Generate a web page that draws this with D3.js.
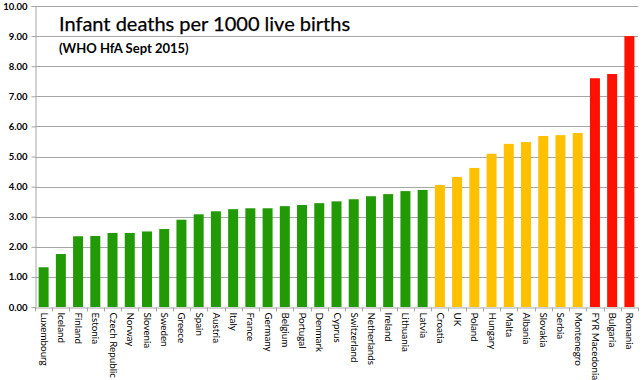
<!DOCTYPE html>
<html><head><meta charset="utf-8">
<script src="https://cdn.jsdelivr.net/npm/d3@7"></script>
<style>body{margin:0;background:#fff}svg{display:block}</style>
</head><body>
<script>
const countries = ["Luxembourg","Iceland","Finland","Estonia","Czech Republic","Norway","Slovenia","Sweden","Greece","Spain","Austria","Italy","France","Germany","Belgium","Portugal","Denmark","Cyprus","Switzerland","Netherlands","Ireland","Lithuania","Latvia","Croatia","UK","Poland","Hungary","Malta","Albania","Slovakia","Serbia","Montenegro","FYR Macedonia","Bulgaria","Romania"];
const rates = [1.32,1.76,2.35,2.36,2.46,2.46,2.51,2.59,2.90,3.08,3.18,3.25,3.28,3.28,3.35,3.39,3.45,3.51,3.58,3.68,3.75,3.85,3.89,4.05,4.32,4.62,5.09,5.42,5.48,5.68,5.71,5.78,7.60,7.74,9.00];
const tiers = ["low","low","low","low","low","low","low","low","low","low","low","low","low","low","low","low","low","low","low","low","low","low","low","mid","mid","mid","mid","mid","mid","mid","mid","mid","high","high","high"];
const yTicks = [0,1,2,3,4,5,6,7,8,9,10];
const title = "Infant deaths per 1000 live births";
const subtitle = "(WHO HfA Sept 2015)";

const W = 642, H = 380;
const m = {left:35, right:4, top:6, bottom:73};
const svg = d3.select("body").append("svg").attr("width",W).attr("height",H);
const x = d3.scaleBand().domain(countries).range([m.left, W-m.right]).paddingInner(0.42).paddingOuter(0.21);
const y = d3.scaleLinear().domain([0,10]).range([H-m.bottom, m.top]);
const color = d3.scaleOrdinal().domain(["low","mid","high"]).range(["#229a06","#ffc000","#ff1100"]);

// gridlines
svg.append("g").selectAll("line").data(yTicks.filter(d=>d>0)).join("line")
  .attr("x1",m.left).attr("x2",W-m.right)
  .attr("y1",d=>Math.round(y(d))+0.5).attr("y2",d=>Math.round(y(d))+0.5)
  .attr("stroke","#a6a6a6").attr("stroke-width",1);

// bars
svg.append("g").selectAll("rect").data(countries).join("rect")
  .attr("x",d=>x(d)).attr("width",x.bandwidth())
  .attr("y",(d,i)=>y(rates[i])).attr("height",(d,i)=>y(0)-y(rates[i]))
  .attr("fill",(d,i)=>color(tiers[i]));

// y axis
const ya = svg.append("g").attr("transform",`translate(${m.left+0.5},0)`)
  .call(d3.axisLeft(y).tickValues(yTicks).tickFormat(d3.format(".2f")).tickSize(4).tickPadding(4));
ya.select(".domain").attr("stroke","#a6a6a6");
ya.selectAll(".tick line").attr("stroke","#a6a6a6");
ya.selectAll("text").attr("font-family","Lato, 'Open Sans', sans-serif").attr("font-size",9.5).attr("font-weight","bold").attr("fill","#000");

// x axis
const xa = svg.append("g").attr("transform",`translate(0,${Math.round(y(0))+0.5})`)
  .call(d3.axisBottom(x).tickSize(0).tickPadding(0));
xa.select(".domain").attr("stroke","#a6a6a6");
xa.selectAll(".tick text")
  .attr("font-family","Lato, 'Open Sans', sans-serif").attr("font-size",9.8).attr("fill","#000")
  .attr("text-anchor","start").attr("dy",null)
  .attr("transform","translate(-3,5) rotate(90)").attr("x",0).attr("y",0);
// category separators
const bounds = d3.range(countries.length+1).map(i=>m.left + i*(W-m.left-m.right)/countries.length);
xa.append("g").selectAll("line").data(bounds).join("line")
  .attr("x1",d=>Math.round(d)+0.5).attr("x2",d=>Math.round(d)+0.5)
  .attr("y1",0).attr("y2",4).attr("stroke","#a6a6a6");

// titles
svg.append("text").attr("x",59).attr("y",31).text(title)
  .attr("font-family","Lato, 'Open Sans', sans-serif").attr("font-size",20).attr("fill","#000")
  .attr("stroke","#000").attr("stroke-width",0.25);
svg.append("text").attr("x",59).attr("y",53).text(subtitle)
  .attr("font-family","Lato, 'Open Sans', sans-serif").attr("font-size",13).attr("font-weight","bold").attr("fill","#000");
</script>
</body></html>
